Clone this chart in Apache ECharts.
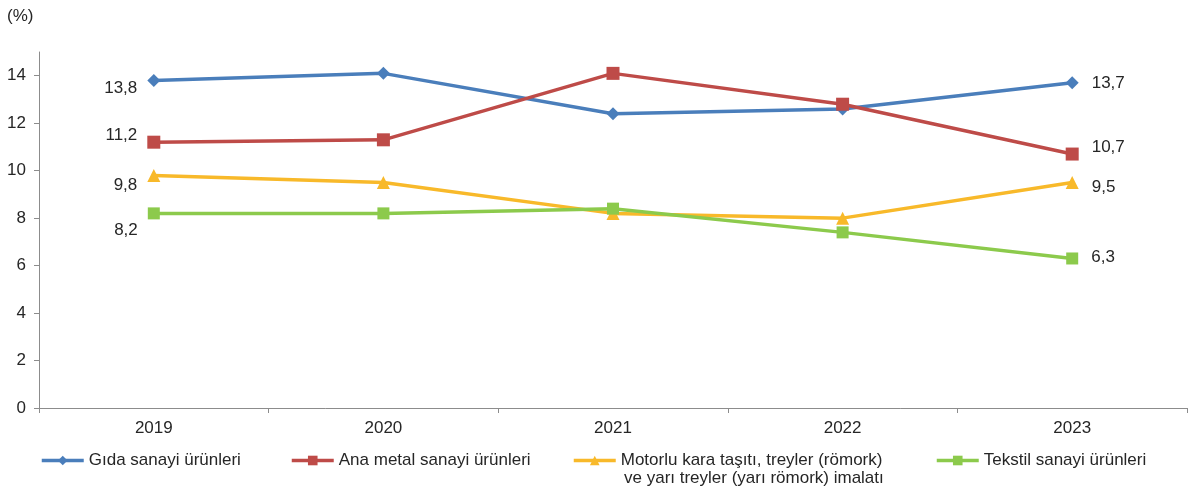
<!DOCTYPE html>
<html>
<head>
<meta charset="utf-8">
<script src="https://cdn.jsdelivr.net/npm/echarts@6/dist/echarts.min.js"></script>
<style>
html,body{margin:0;padding:0;background:#fff;}
#chart{width:1188px;height:496px;}
</style>
</head>
<body>
<div id="chart"></div>
<script>
var years = ['2019', '2020', '2021', '2022', '2023'];
var gida = [13.8, 14.1, 12.4, 12.6, 13.7];
var anaMetal = [11.2, 11.3, 14.1, 12.8, 10.7];
var motorlu = [9.8, 9.5, 8.2, 8.0, 9.5];
var tekstil = [8.2, 8.2, 8.4, 7.4, 6.3];
var yTicks = [0, 2, 4, 6, 8, 10, 12, 14];
var names = ['Gıda sanayi ürünleri', 'Ana metal sanayi ürünleri',
  'Motorlu kara taşıtı, treyler (römork)', 'Tekstil sanayi ürünleri'];
var motorluLine2 = 've yarı treyler (yarı römork) imalatı';
var unitLabel = '(%)';

var FONT = 'Liberation Sans, Arial, sans-serif';
var TXT = '#262626';
var colors = ['#4A7EBB', '#BE4B48', '#F8B92A', '#8CCA4C'];
var symbols = ['diamond', 'rect', 'triangle', 'rect'];
var symSizes = [13, 13, 13, 12];

function fmt(v) { return String(v).replace('.', ','); }

var firstOff = [8, -7, 10, 17];
var lastOff = [0, -7, 5, -1];

function buildData(arr, si) {
  return arr.map(function (v, i) {
    var d = { value: v };
    if (i === 0) {
      d.label = { show: true, position: 'left', distance: 10, offset: [0, firstOff[si]] };
    } else if (i === arr.length - 1) {
      d.label = { show: true, position: 'right', distance: 13, offset: [0, lastOff[si]] };
    }
    return d;
  });
}

var seriesArr = [gida, anaMetal, motorlu, tekstil].map(function (arr, si) {
  return {
    name: names[si],
    type: 'line',
    data: buildData(arr, si),
    symbol: symbols[si],
    symbolSize: symSizes[si],
    lineStyle: { width: 3.5, color: colors[si] },
    itemStyle: { color: colors[si] },
    label: {
      show: false,
      formatter: function (p) { return fmt(p.value); },
      fontFamily: FONT, fontSize: 17, color: TXT
    },
    animation: false
  };
});

var legendLeft = [40, 290, 572, 935];
var legends = names.map(function (n, i) {
  return {
    left: legendLeft[i], top: 452,
    padding: 0,
    itemWidth: 42, itemHeight: 12,
    selectedMode: false,
    lineStyle: { width: 3.5 },
    data: [{ name: n }],
    textStyle: { fontFamily: FONT, fontSize: 17, color: TXT }
  };
});

var chart = echarts.init(document.getElementById('chart'));
chart.setOption({
  backgroundColor: '#fff',
  color: colors,
  title: { text: unitLabel, left: 7, top: 8, padding: 0,
    textStyle: { fontFamily: FONT, fontSize: 17, fontWeight: 'normal', color: TXT } },
  legend: legends,
  graphic: [{
    type: 'text', left: 624, top: 470,
    style: { text: motorluLine2, font: '17px Liberation Sans, Arial, sans-serif', fill: TXT }
  }],
  grid: { left: 39, right: 1, top: 52, bottom: 88, containLabel: false },
  xAxis: {
    type: 'category',
    data: years,
    boundaryGap: true,
    axisLine: { lineStyle: { color: '#8C8C8C', width: 1 } },
    axisTick: { show: true, length: 5, lineStyle: { color: '#8C8C8C' } },
    axisLabel: { fontFamily: FONT, fontSize: 17, color: TXT, margin: 12 },
    splitLine: { show: false }
  },
  yAxis: {
    type: 'value',
    min: 0, max: 15, interval: 1,
    axisLine: { show: true, lineStyle: { color: '#8C8C8C', width: 1 } },
    axisTick: { show: true, length: 5, lineStyle: { color: '#8C8C8C' }, customValues: yTicks },
    axisLabel: { fontFamily: FONT, fontSize: 17, color: TXT, margin: 13, customValues: yTicks },
    splitLine: { show: false }
  },
  series: seriesArr
});
</script>
</body>
</html>
